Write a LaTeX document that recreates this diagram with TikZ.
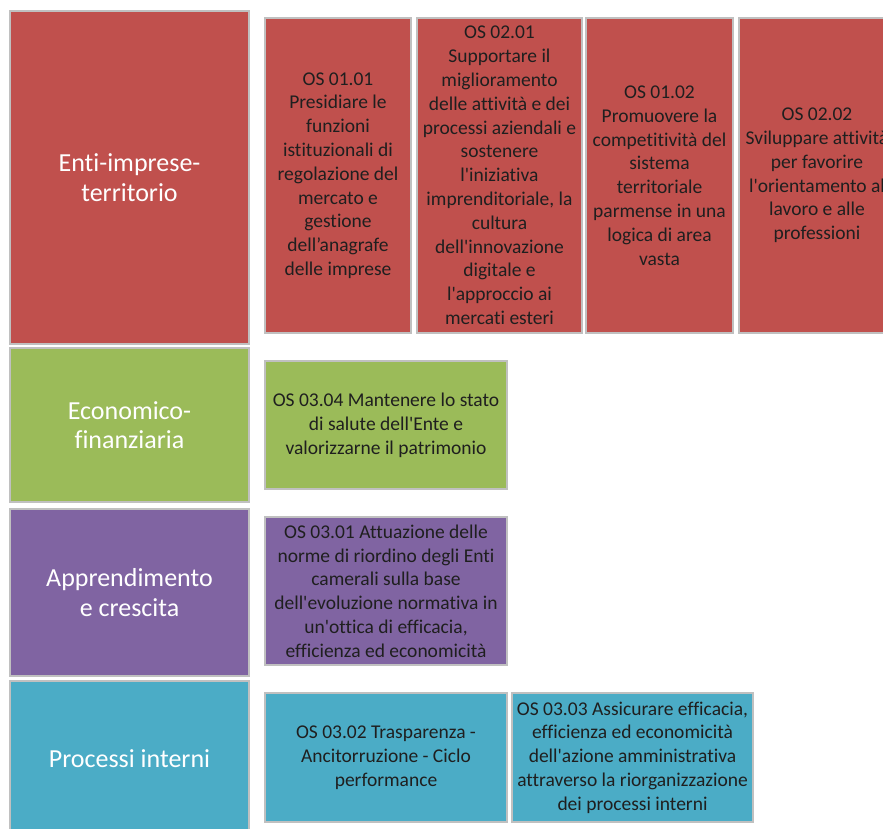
\documentclass[tikz,border=0pt]{standalone}
\usepackage{fontspec}
\setmainfont{Carlito}[Ligatures={TeXOff,NoCommon}]
\usepackage{tikz}
\usetikzlibrary{positioning}
\definecolor{osred}{HTML}{C0504D}
\definecolor{osgreen}{HTML}{9BBB59}
\definecolor{ospurple}{HTML}{8064A2}
\definecolor{oscyan}{HTML}{4BACC6}
\definecolor{framegray}{HTML}{C0C0C0}

\begin{document}
\begin{tikzpicture}[x=1pt,y=-1pt,
  catbox/.style={draw=framegray, line width=2pt, text=white, align=center,
    inner sep=0pt, font=\fontsize{26}{29.5}\selectfont},
  osbox/.style={draw=framegray, line width=2pt, text=black!88, align=center,
    inner sep=0pt, font=\fontsize{19.5}{23.8}\selectfont}]
\useasboundingbox (0,0) rectangle (883,829);
\clip (0,0) rectangle (883,829);

% perspectives
\node[catbox, fill=osred, minimum width=239, minimum height=333] (enti) at (129.5,177.5)
  {Enti-imprese-\\territorio};
\node[catbox, fill=osgreen, minimum width=239, minimum height=154] (econ) at (129.5,425)
  {Economico-\\finanziaria};
\node[catbox, fill=ospurple, minimum width=239, minimum height=167] (appr) at (129.5,592.5)
  {Apprendimento\\e crescita};
\node[catbox, fill=oscyan, minimum width=239, minimum height=156] (proc) at (129.5,759)
  {Processi interni};

% Enti-imprese-territorio
\node[osbox, fill=osred, minimum width=146, minimum height=315] (os0101) at (338,175.5)
  {OS 01.01\\Presidiare le\\funzioni\\istituzionali di\\regolazione del\\mercato e\\gestione\\dell’anagrafe\\delle imprese};
\node[osbox, fill=osred, minimum width=165, minimum height=315] (os0201) at (499.5,175.5)
  {OS 02.01\\Supportare il\\miglioramento\\delle attività e dei\\processi aziendali e\\sostenere\\l'iniziativa\\imprenditoriale, la\\cultura\\dell'innovazione\\digitale e\\l'approccio ai\\mercati esteri};
\node[osbox, fill=osred, minimum width=147, minimum height=315] (os0102) at (659.5,175.5)
  {OS 01.02\\Promuovere la\\competitività del\\sistema\\territoriale\\parmense in una\\logica di area\\vasta};
\node[osbox, fill=osred, minimum width=156, minimum height=315] (os0202) at (817,175.5)
  {OS 02.02\\Sviluppare attività\\per favorire\\l'orientamento al\\lavoro e alle\\professioni};

% Economico-finanziaria
\node[osbox, fill=osgreen, minimum width=242, minimum height=128] (os0304) at (386,425)
  {OS 03.04 Mantenere lo stato\\di salute dell'Ente e\\valorizzarne il patrimonio};

% Apprendimento e crescita
\node[osbox, fill=ospurple, minimum width=242, minimum height=148] (os0301) at (386,591)
  {OS 03.01 Attuazione delle\\norme di riordino degli Enti\\camerali sulla base\\dell'evoluzione normativa in\\un'ottica di efficacia,\\efficienza ed economicità};

% Processi interni
\node[osbox, fill=oscyan, minimum width=242, minimum height=129] (os0302) at (386,757.5)
  {OS 03.02 Trasparenza -\\Ancitorruzione - Ciclo\\performance};
\node[osbox, fill=oscyan, minimum width=241, minimum height=129] (os0303) at (632.5,757.5)
  {OS 03.03 Assicurare efficacia,\\efficienza ed economicità\\dell'azione amministrativa\\attraverso la riorganizzazione\\dei processi interni};
\end{tikzpicture}
\end{document}
